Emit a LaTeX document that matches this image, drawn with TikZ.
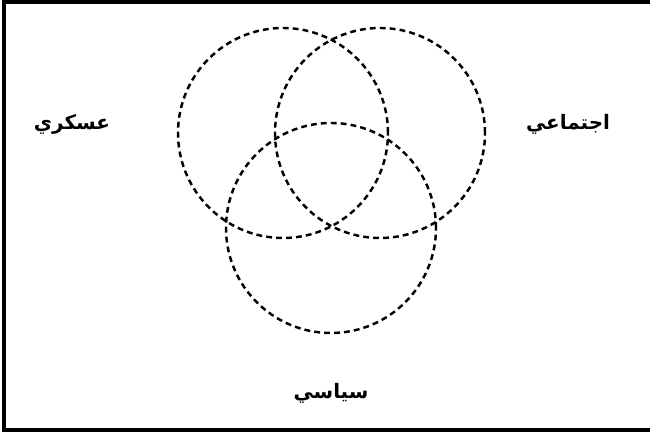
\documentclass[tikz,border=0pt]{standalone}
\usepackage{fontspec}
\TeXXeTstate=1
\newfontfamily\arabicfont[Script=Arabic]{DejaVu Sans}
\begin{document}
\begin{tikzpicture}[
        x=0.03cm, y=0.03cm,
        ring/.style={circle, draw, dashed, line width=2.1pt, dash pattern=on 5pt off 3.5pt, minimum size=6.3cm, inner sep=0pt},
        lbl/.style={font=\arabicfont\bfseries\fontsize{17}{20}\selectfont, inner sep=0pt}
    ]
        \useasboundingbox (0,0) rectangle (650,433);
        \clip (0,0) rectangle (650,433);
        \draw[line width=2.6pt] (4,3) rectangle (660,431);

        \node[ring] (military) at (283,300) {};
        \node[ring] (social) at (380,300) {};
        \node[ring] (political) at (331,205) {};

        \node[lbl] (militarylbl) at (72,309) {\beginR عسكري\endR};
        \node[lbl] (sociallbl) at (568,309) {\beginR اجتماعي\endR};
        \node[lbl] (politicallbl) at (331,40) {\beginR سياسي\endR};
    \end{tikzpicture}
\end{document}
